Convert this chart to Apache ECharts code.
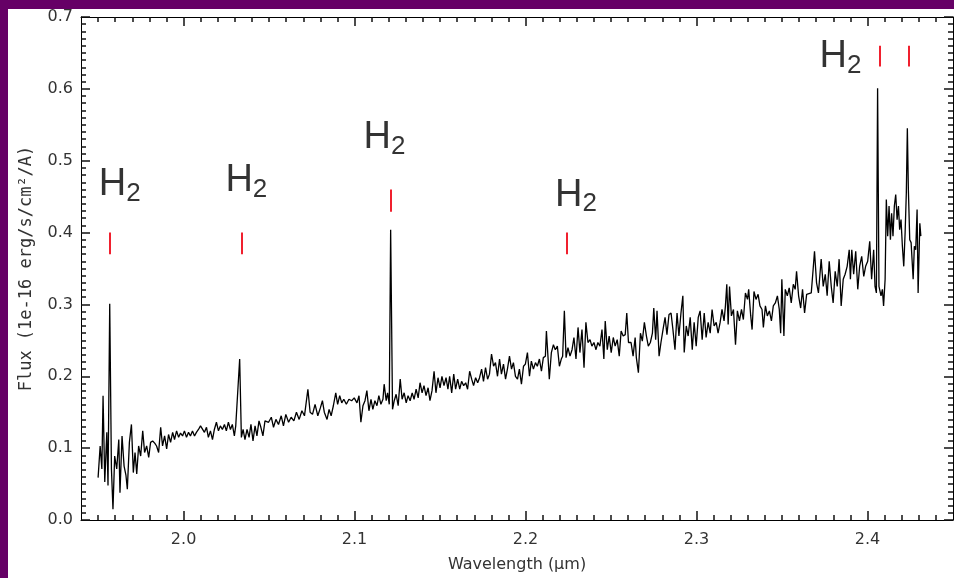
<!DOCTYPE html>
<html><head><meta charset="utf-8">
<script src="https://cdn.jsdelivr.net/npm/echarts@6/dist/echarts.min.js"></script>
<style>html,body{margin:0;padding:0;background:#fff}#c{width:954px;height:578px}</style>
</head><body><div id="c"></div>
<script>
// ---- data ----
const wavelength = [
1.9500,1.9512,1.9522,1.9529,1.9539,1.9551,1.9558,1.9568,1.9578,1.9587,
1.9597,1.9609,1.9621,1.9628,1.9640,1.9652,1.9663,1.9671,1.9683,1.9695,
1.9706,1.9716,1.9726,1.9737,1.9749,1.9761,1.9772,1.9784,1.9796,1.9807,
1.9819,1.9831,1.9842,1.9854,1.9866,1.9877,1.9889,1.9901,1.9912,1.9924,
1.9936,1.9947,1.9959,1.9971,1.9982,1.9994,2.0005,2.0017,2.0029,2.0040,
2.0052,2.0064,2.0075,2.0087,2.0099,2.0110,2.0122,2.0134,2.0145,2.0157,
2.0169,2.0180,2.0192,2.0204,2.0215,2.0227,2.0239,2.0250,2.0262,2.0274,
2.0285,2.0297,2.0305,2.0316,2.0328,2.0338,2.0348,2.0359,2.0371,2.0383,
2.0394,2.0406,2.0418,2.0429,2.0441,2.0452,2.0464,2.0476,2.0487,
2.0497,2.0513,2.0526,2.0540,2.0555,2.0571,2.0584,2.0598,2.0614,2.0629,
2.0645,2.0660,2.0676,2.0692,2.0707,2.0727,2.0740,2.0754,2.0769,2.0785,
2.0800,2.0812,2.0823,2.0839,2.0851,2.0863,2.0876,2.0890,2.0901,2.0913,
2.0925,2.0937,2.0952,2.0967,2.0983,2.0998,2.1014,2.1026,2.1037,2.1049,
2.1061,2.1072,2.1084,2.1096,2.1107,2.1119,2.1131,2.1142,2.1154,2.1166,
2.1173,2.1185,2.1193,2.1203,2.1211,2.1222,2.1232,2.1243,2.1255,2.1267,
2.1278,2.1290,2.1302,2.1313,2.1325,2.1337,2.1348,2.1360,2.1372,2.1383,
2.1395,2.1406,2.1418,2.1430,2.1441,2.1453,2.1465,2.1476,2.1488,2.1500,
2.1511,2.1523,2.1535,2.1546,
2.1556,2.1568,2.1580,2.1591,2.1603,2.1615,2.1626,2.1638,2.1650,2.1661,
2.1673,2.1685,2.1696,2.1708,2.1720,2.1731,2.1743,2.1754,2.1766,2.1778,
2.1789,2.1801,2.1813,2.1824,2.1836,2.1848,2.1859,2.1871,2.1883,2.1894,
2.1906,2.1918,2.1929,2.1941,2.1953,2.1964,2.1976,2.1988,2.1999,2.2011,
2.2023,2.2034,2.2046,2.2058,2.2069,2.2081,2.2093,2.2104,2.2116,2.2122,
2.2132,2.2139,2.2151,2.2163,2.2174,2.2186,2.2198,2.2209,2.2217,2.2227,
2.2237,2.2248,2.2260,2.2272,2.2283,2.2295,2.2307,2.2318,2.2330,2.2342,
2.2353,2.2365,2.2377,2.2388,2.2400,2.2412,2.2423,2.2435,2.2447,2.2458,
2.2466,2.2478,2.2489,2.2501,2.2513,2.2524,2.2536,2.2548,2.2559,2.2571,
2.2583,2.2592,2.2602,
2.2617,2.2629,2.2641,2.2648,2.2660,2.2672,2.2683,2.2695,2.2707,2.2718,
2.2730,2.2742,2.2750,2.2761,2.2769,2.2781,2.2792,2.2804,2.2816,2.2827,
2.2839,2.2851,2.2862,2.2874,2.2886,2.2897,2.2909,2.2920,2.2928,2.2940,
2.2951,2.2963,2.2975,2.2986,2.2998,2.3010,2.3021,2.3033,2.3045,2.3056,
2.3068,2.3080,2.3091,2.3103,2.3115,2.3126,2.3138,2.3149,2.3161,2.3169,
2.3177,2.3185,2.3193,2.3204,2.3216,2.3228,2.3239,2.3251,2.3263,2.3274,
2.3286,2.3298,2.3305,2.3317,2.3325,2.3336,2.3348,2.3360,2.3371,2.3383,
2.3391,2.3403,2.3414,2.3426,2.3438,2.3449,2.3461,2.3473,2.3484,2.3492,
2.3499,2.3511,2.3519,2.3531,2.3542,2.3554,2.3566,2.3577,2.3585,2.3597,
2.3609,2.3620,2.3632,2.3644,2.3655,
2.3671,2.3682,2.3690,2.3702,2.3713,2.3729,2.3741,2.3753,2.3764,2.3776,
2.3788,2.3799,2.3811,2.3823,2.3834,2.3846,2.3858,2.3869,2.3881,2.3893,
2.3900,2.3908,2.3919,2.3931,2.3943,2.3954,2.3966,2.3978,2.3989,2.4001,
2.4013,2.4024,2.4036,2.4044,2.4052,2.4059,2.4067,2.4079,2.4087,2.4094,
2.4103,2.4110,2.4118,2.4126,2.4134,2.4141,2.4149,2.4157,2.4165,2.4173,
2.4181,2.4188,2.4196,2.4204,2.4212,2.4220,2.4227,2.4233,2.4239,2.4247,
2.4255,2.4267,2.4274,2.4282,2.4290,2.4296,2.4306,2.4312
];
const flux = [
0.059,0.103,0.071,0.173,0.053,0.122,0.048,0.301,0.071,0.015,
0.089,0.071,0.112,0.038,0.117,0.075,0.062,0.043,0.108,0.133,
0.066,0.094,0.064,0.103,0.089,0.124,0.094,0.103,0.087,0.108,
0.110,0.107,0.103,0.094,0.129,0.103,0.117,0.099,0.119,0.108,
0.122,0.112,0.124,0.115,0.121,0.117,0.124,0.115,0.122,0.117,
0.124,0.117,0.122,0.126,0.131,0.133,0.122,0.129,0.115,0.124,
0.112,0.126,0.136,0.124,0.131,0.126,0.133,0.124,0.136,0.126,
0.133,0.117,0.131,0.133,0.224,0.115,0.126,0.112,0.126,0.115,
0.133,0.110,0.131,0.117,0.138,0.129,0.117,0.138,0.136,
0.136,0.143,0.129,0.140,0.133,0.145,0.131,0.147,0.136,0.143,
0.138,0.150,0.140,0.152,0.145,0.182,0.150,0.147,0.161,0.145,
0.156,0.166,0.150,0.140,0.154,0.145,0.159,0.177,0.161,0.173,
0.163,0.168,0.161,0.168,0.166,0.170,0.163,0.173,0.136,0.159,
0.166,0.180,0.152,0.168,0.154,0.166,0.159,0.173,0.161,0.168,
0.189,0.166,0.177,0.161,0.404,0.154,0.166,0.175,0.159,0.196,
0.168,0.177,0.163,0.173,0.166,0.177,0.168,0.182,0.170,0.191,
0.177,0.187,0.173,0.184,0.166,0.180,0.207,0.177,0.198,0.184,
0.200,0.187,0.198,0.182,
0.200,0.177,0.203,0.182,0.196,0.182,0.193,0.187,0.191,0.182,
0.207,0.196,0.187,0.198,0.191,0.198,0.210,0.193,0.212,0.196,
0.203,0.231,0.214,0.219,0.200,0.224,0.203,0.217,0.196,0.210,
0.228,0.210,0.219,0.200,0.196,0.210,0.189,0.214,0.217,0.233,
0.200,0.221,0.210,0.219,0.214,0.224,0.207,0.226,0.228,0.263,
0.224,0.196,0.233,0.244,0.237,0.242,0.214,0.224,0.228,0.291,
0.226,0.240,0.228,0.237,0.254,0.224,0.268,0.233,0.265,0.212,
0.275,0.247,0.251,0.242,0.247,0.237,0.247,0.242,0.265,0.224,
0.277,0.237,0.256,0.233,0.254,0.242,0.251,0.228,0.263,0.256,
0.258,0.288,0.247,
0.247,0.228,0.254,0.226,0.205,0.260,0.249,0.275,0.256,0.242,
0.247,0.260,0.295,0.251,0.291,0.228,0.247,0.265,0.282,0.258,
0.286,0.288,0.265,0.237,0.288,0.256,0.288,0.312,0.233,0.270,
0.256,0.282,0.237,0.275,0.242,0.282,0.291,0.251,0.288,0.254,
0.275,0.260,0.293,0.270,0.275,0.260,0.275,0.293,0.277,0.298,
0.328,0.272,0.325,0.284,0.293,0.244,0.291,0.277,0.293,0.279,
0.316,0.307,0.321,0.284,0.265,0.318,0.307,0.314,0.298,0.293,
0.268,0.298,0.284,0.291,0.277,0.298,0.302,0.312,0.293,0.260,
0.335,0.256,0.321,0.312,0.323,0.302,0.328,0.321,0.346,0.312,
0.295,0.321,0.288,0.314,0.316,
0.316,0.349,0.374,0.330,0.316,0.363,0.325,0.342,0.312,0.360,
0.325,0.302,0.346,0.325,0.363,0.298,0.335,0.342,0.353,0.376,
0.335,0.376,0.342,0.374,0.321,0.353,0.367,0.339,0.353,0.360,
0.388,0.335,0.376,0.325,0.316,0.601,0.325,0.312,0.321,0.298,
0.335,0.446,0.395,0.437,0.390,0.427,0.395,0.437,0.453,0.418,
0.437,0.404,0.418,0.381,0.353,0.400,0.455,0.545,0.460,0.390,
0.386,0.335,0.381,0.376,0.432,0.316,0.413,0.395
];
// tick values
const xMajorTicks = [2.0, 2.1, 2.2, 2.3, 2.4];
const yMajorTicks = [0.0, 0.1, 0.2, 0.3, 0.4, 0.5, 0.6, 0.7];
const xMinorTicks = [];
for (let k = 195; k <= 244; k++) if (k % 10 !== 0) xMinorTicks.push(k / 100);
const yMinorTicks = [];
for (let k = 1; k < 70; k++) if (k % 10 !== 0) yMinorTicks.push(k / 100);
// H2 line marks (red ticks): wavelength, lower and upper flux of the tick
const markerX      = [1.957, 2.0338, 2.1213, 2.2239, 2.4070, 2.4239];
const markerBottom = [0.370, 0.370, 0.429, 0.370, 0.631, 0.631];
const markerTop    = [0.400, 0.400, 0.460, 0.400, 0.660, 0.660];
// "H2" annotation anchors (data coordinates)
const labelX = [1.9627, 2.0367, 2.1175, 2.2295, 2.3842];
const labelY = [0.4667, 0.4722, 0.5319, 0.452, 0.6444];
const X_MIN = 1.94, X_MAX = 2.45, Y_MIN = 0, Y_MAX = 0.7;

const FONT = 'DejaVu Sans';
const GRID_W = 872, GRID_H = 504;
const xPerPx = (X_MAX - X_MIN) / GRID_W, yPerPx = (Y_MAX - Y_MIN) / GRID_H;
function ls() { return {color: '#000', width: 1}; }
const TICK_STYLE = {color: '#111', width: 1.5, type: 'solid', opacity: 1};

// inward tick marks on all four frame sides, as mark lines in data space
const markLines = [];
function seg(a, b, style) {
  return [{coord: a, lineStyle: style}, {coord: b}];
}
function addXTick(v, len) {
  const d = len * yPerPx;
  markLines.push(seg([v, Y_MIN], [v, Y_MIN + d], TICK_STYLE));
  markLines.push(seg([v, Y_MAX], [v, Y_MAX - d], TICK_STYLE));
}
function addYTick(v, len) {
  const d = len * xPerPx;
  markLines.push(seg([X_MIN, v], [X_MIN + d, v], TICK_STYLE));
  markLines.push(seg([X_MAX, v], [X_MAX - d, v], TICK_STYLE));
}
xMajorTicks.forEach(v => addXTick(v, 9));
xMinorTicks.forEach(v => addXTick(v, 5));
yMajorTicks.forEach(v => addYTick(v, 9));
yMinorTicks.forEach(v => addYTick(v, 5));
markerX.forEach((x, i) => markLines.push(
  seg([x, markerBottom[i]], [x, markerTop[i]], {color: '#f0202e', width: 2, type: 'solid'})
));

const chart = echarts.init(document.getElementById('c'), null, {renderer: 'canvas'});
chart.setOption({
  animation: false,
  backgroundColor: '#ffffff',
  grid: {left: 81, top: 17, width: GRID_W, height: GRID_H, containLabel: false},
  graphic: [
    {type: 'rect', left: 0, top: 0, shape: {width: 954, height: 9}, style: {fill: '#660066'}},
    {type: 'rect', left: 0, top: 0, shape: {width: 8, height: 578}, style: {fill: '#660066'}}
  ],
  xAxis: [
    {type: 'value', min: X_MIN, max: X_MAX, position: 'bottom',
     splitLine: {show: false}, axisTick: {show: false},
     axisLine: {show: true, onZero: false, lineStyle: ls()},
     axisLabel: {show: true, margin: 12, showMinLabel: false, showMaxLabel: false,
                 formatter: v => v.toFixed(1), fontFamily: FONT, fontSize: 16, color: '#333'},
     name: 'Wavelength (\u03bcm)', nameLocation: 'middle', nameGap: 37,
     nameTextStyle: {fontFamily: FONT, fontSize: 16, color: '#333'}},
    {type: 'value', min: X_MIN, max: X_MAX, position: 'top',
     splitLine: {show: false}, axisTick: {show: false}, axisLabel: {show: false},
     axisLine: {show: true, onZero: false, lineStyle: ls()}}
  ],
  yAxis: [
    {type: 'value', min: Y_MIN, max: Y_MAX, interval: 0.1, position: 'left',
     splitLine: {show: false}, axisTick: {show: false},
     axisLine: {show: true, onZero: false, lineStyle: ls()},
     axisLabel: {show: true, margin: 8, formatter: v => v.toFixed(1),
                 fontFamily: FONT, fontSize: 16, color: '#333'},
     name: 'Flux (1e-16 erg/s/cm\u00b2/A)', nameLocation: 'middle', nameGap: 46, nameRotate: 90,
     nameTextStyle: {fontFamily: 'DejaVu Sans Mono', fontSize: 17, color: '#333'}},
    {type: 'value', min: Y_MIN, max: Y_MAX, interval: 0.1, position: 'right',
     splitLine: {show: false}, axisTick: {show: false}, axisLabel: {show: false},
     axisLine: {show: true, onZero: false, lineStyle: ls()}}
  ],
  series: [
    {
      type: 'line', xAxisIndex: 0, yAxisIndex: 0,
      data: wavelength.map((w, i) => [w, flux[i]]),
      showSymbol: false, symbol: 'none',
      lineStyle: {color: '#000', width: 1.3},
      silent: true, clip: false,
      markLine: {
        silent: true, symbol: ['none', 'none'], animation: false, precision: 6,
        label: {show: false},
        emphasis: {disabled: true},
        lineStyle: TICK_STYLE,
        data: markLines
      }
    },
    {
      type: 'scatter', xAxisIndex: 0, yAxisIndex: 0,
      data: labelX.map((x, i) => [x, labelY[i]]),
      symbol: 'circle', symbolSize: 0, silent: true,
      label: {
        show: true, position: 'inside', formatter: '{a|H}{b|2}',
        rich: {
          a: {fontFamily: 'Liberation Sans', fontSize: 38, lineHeight: 44, color: '#000'},
          b: {fontFamily: 'Liberation Sans', fontSize: 26, lineHeight: 20, verticalAlign: 'bottom', color: '#000'}
        }
      }
    }
  ]
});
</script></body></html>
